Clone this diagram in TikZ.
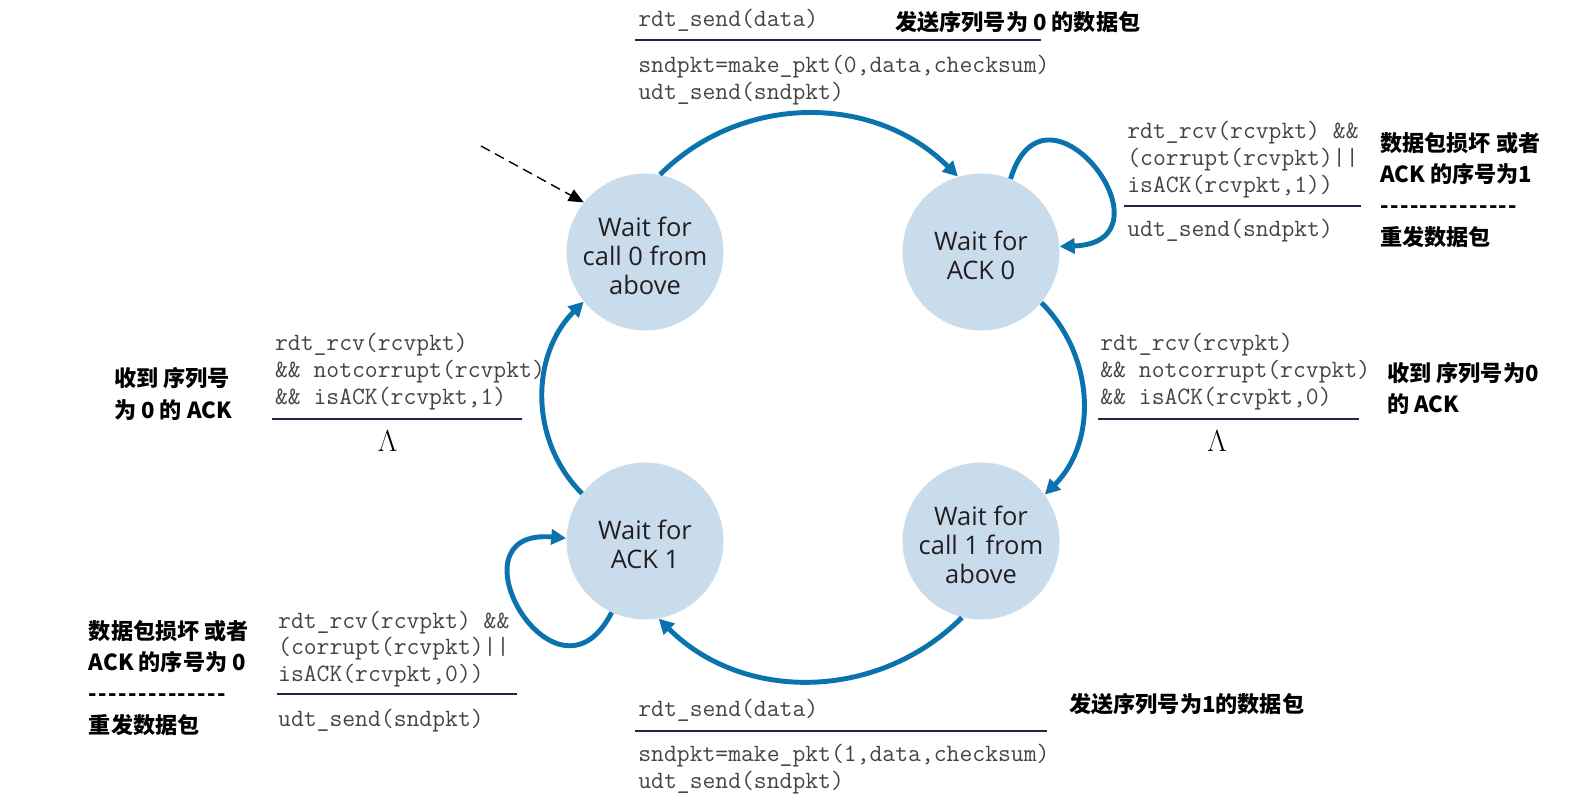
\documentclass[tikz,border=0pt]{standalone}
\usepackage{fontspec}
\setmainfont{Open Sans}
\newfontfamily\cjk{Noto Sans CJK SC}
\usetikzlibrary{arrows.meta}
\definecolor{statefill}{HTML}{C9DCEC}
\definecolor{statetext}{HTML}{231F20}
\definecolor{arcblue}{HTML}{0A72AD}
\definecolor{rulenavy}{HTML}{23264A}
\definecolor{codegray}{HTML}{444444}
\newcommand\dashrow{\foreach\i in {1,...,14}{-\kern0.8pt}}
\newcommand\topgap{\rule{0pt}{15pt}}

\begin{document}
\begin{tikzpicture}[x=0.02cm, y=0.02cm,
  state/.style={circle, fill=statefill, text=statetext, minimum size=3.14cm, inner sep=0pt, align=center, font=\fontsize{14.5}{16.5}\selectfont},
  trans/.style={line width=2.8pt, arcblue, -{Triangle[length=0.3cm, width=0.3cm]}},
  code/.style={anchor=west, inner sep=0pt, align=left, text=codegray, font=\ttfamily\fontsize{14.2}{15.3}\selectfont},
  note/.style={anchor=west, inner sep=0pt, align=left, font=\cjk\bfseries\fontsize{12.6}{17.7}\selectfont},
  guard/.style={line width=1.1pt, rulenavy},
  lam/.style={inner sep=0pt, font=\fontsize{16}{16}\selectfont}]
\useasboundingbox (0,0) rectangle (1578,800);

% States
\node[state] (s0) at (645,548) {\topgap Wait for\\call 0 from\\above};
\node[state] (s1) at (981,548) {\topgap Wait for\\ACK 0};
\node[state] (s2) at (981,259) {\topgap Wait for\\call 1 from\\above};
\node[state] (s3) at (645,259) {\topgap Wait for\\ACK 1};

% Initial state
\coordinate (init) at (481,654);
\draw[line width=0.8pt, dash pattern=on 0.2cm off 0.12cm, -{Triangle[length=0.3cm, width=0.26cm]}] (init) -- (s0.141);

% Transitions
\draw[trans] (s0.79) to[out=45, in=135] (s1.107);
\draw[trans] (s1.68) to[out=73, in=2, looseness=3.7] (s1.4);
\draw[trans] (s1.-40) to[out=-45, in=45] (s2.36);
\draw[trans] (s2.-104) to[out=-135, in=-45] (s3.-80);
\draw[trans] (s3.-115) to[out=-117, in=175, looseness=3.6] (s3.178);
\draw[trans] (s3.143) to[out=135, in=-135] (s0.-141);

% Send 0
\node[code] (send0) at (638,780) {rdt\_send(data)};
\draw[guard] (635,760) -- (1041,760);
\node[code] (act0) at (638,720) {sndpkt=make\_pkt(0,data,checksum)\\udt\_send(sndpkt)};
\node[note] (note0) at (895,778) {发送序列号为 0 的数据包};

% Resend in ACK 0
\node[code] (guard1) at (1127,640) {rdt\_rcv(rcvpkt) \&\&\\(corrupt(rcvpkt)||\\isACK(rcvpkt,1))};
\draw[guard] (1124,594) -- (1361,594);
\node[code] (act1) at (1127,569.5) {udt\_send(sndpkt)};
\node[note] (note1) at (1380,610) {数据包损坏 或者\\ACK 的序号为1\\\dashrow\\重发数据包};

% ACK 0 received
\node[code] (guard2) at (1100,428) {rdt\_rcv(rcvpkt)\\\&\& notcorrupt(rcvpkt)\\\&\& isACK(rcvpkt,0)};
\draw[guard] (1098,381.3) -- (1359,381.3);
\node[lam] (lam2) at (1217,359) {$\Lambda$};
\node[note] (note2) at (1387,411.5) {收到 序列号为0\\的 ACK};

% Send 1
\node[code] (send1) at (638,89.5) {rdt\_send(data)};
\draw[guard] (635,69.4) -- (1047,69.4);
\node[code] (act3) at (638,31) {sndpkt=make\_pkt(1,data,checksum)\\udt\_send(sndpkt)};
\node[note] (note3) at (1069,95.5) {发送序列号为1的数据包};

% Resend in ACK 1
\node[code] (guard4) at (277.8,151) {rdt\_rcv(rcvpkt) \&\&\\(corrupt(rcvpkt)||\\isACK(rcvpkt,0))};
\draw[guard] (276.8,105.6) -- (517.3,105.6);
\node[code] (act4) at (277.8,79.4) {udt\_send(sndpkt)};
\node[note] (note4) at (88.6,122) {数据包损坏 或者\\ACK 的序号为 0\\\dashrow\\重发数据包};

% ACK 1 received
\node[code] (guard5) at (274.7,428) {rdt\_rcv(rcvpkt)\\\&\& notcorrupt(rcvpkt)\\\&\& isACK(rcvpkt,1)};
\draw[guard] (271.7,381.3) -- (522.3,381.3);
\node[lam] (lam5) at (387.5,359) {$\Lambda$};
\node[note] (note5) at (113.7,406) {收到 序列号\\为 0 的 ACK};
\end{tikzpicture}
\end{document}
